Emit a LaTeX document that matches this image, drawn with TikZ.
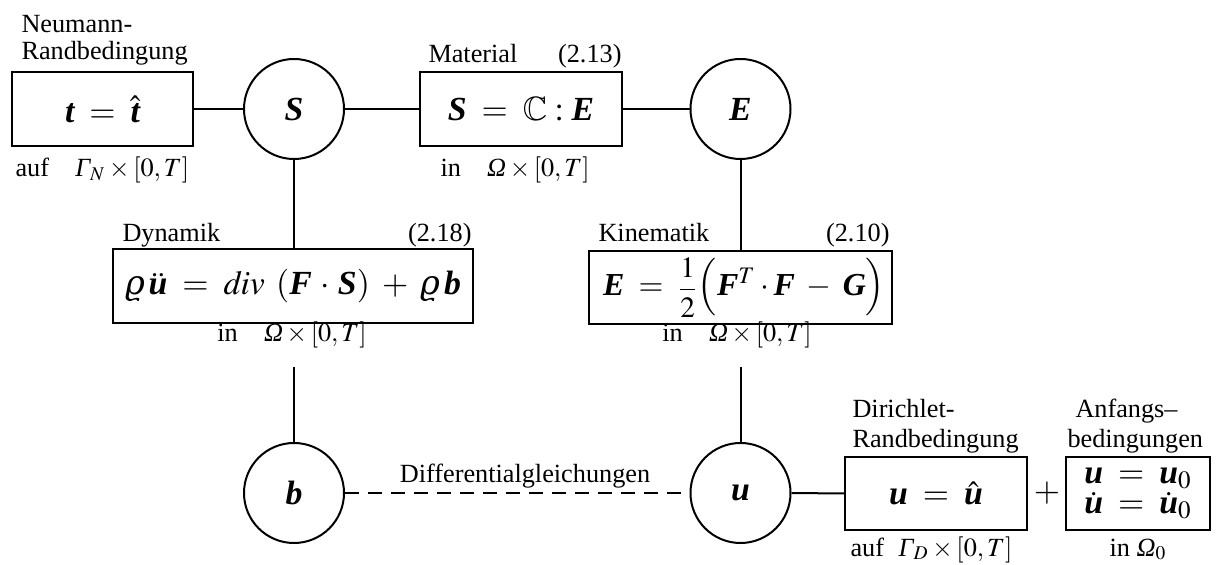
\documentclass[tikz,border=0pt]{standalone}
\usepackage{amsmath}
\usepackage{mathptmx}
\usepackage{amssymb}
\usepackage[no-math]{fontspec}
\setmainfont{Liberation Serif}
\newfontfamily\dvs{DejaVu Serif}
\newcommand{\bv}[1]{\text{\normalfont\bfseries\itshape #1}}
\newcommand{\gi}[1]{\text{\normalfont\itshape #1}}
\newcommand{\rhov}{\text{\dvs\itshape ϱ}}
\newcommand{\Mt}{\fontsize{13.5}{12.2}\selectfont}
\begin{document}
\begin{tikzpicture}[x=0.4pt,y=-0.4pt, font=\fontsize{10.5}{12.6}\selectfont,
  box/.style={draw, line width=0.8pt, inner sep=0pt, font=\Mt, align=center},
  circ/.style={draw, circle, line width=0.8pt, minimum size=40pt, inner sep=0pt, font=\Mt},
  lab/.style={inner sep=0pt, anchor=base west},
  labr/.style={inner sep=0pt, anchor=base east},
  labc/.style={inner sep=0pt, anchor=base},
  conn/.style={line width=0.8pt},
  dconn/.style={line width=0.8pt, dash pattern=on 5.6pt off 3.6pt}]
\useasboundingbox (0,0) rectangle (1221,565);

% nodes
\node[box, minimum width=72pt, minimum height=29.6pt] (tb) at (102.5,109) {$\bv{t} \;=\; \hat{\bv{t}}$};
\node[circ] (S) at (294,109) {$\bv{S}$};
\node[box, minimum width=80.8pt, minimum height=29.6pt] (mat) at (521,109) {$\bv{S} \;=\; \mathbb{C} : \bv{E}$};
\node[circ] (E) at (740.5,109) {$\bv{E}$};
\node[box, minimum width=144pt, minimum height=29.6pt] (dyn) at (293,286) {$\rhov\,\ddot{\bv{u}} \;=\; \mathit{div}\;\,(\bv{F}\,\cdot\,\bv{S}) \;+\; \rhov\,\bv{b}$};
\node[box, minimum width=121.2pt, minimum height=29.2pt, font=\fontsize{12.8}{12}\selectfont] (kin) at (740.5,287.5) {$\;\bv{E} \;=\; \vcenter{\hbox{\scalebox{0.92}{$\displaystyle\frac{1}{2}$}}}\Bigl(\bv{F}^{T}\cdot\bv{F} \;-\; \bv{G}\Bigr)$};
\node[circ] (b) at (294,493) {$\bv{b}$};
\node[circ] (u) at (740.5,493) {$\bv{u}$};
\node[box, minimum width=72.8pt, minimum height=29.2pt] (dir) at (936,493.5) {$\bv{u} \;=\; \hat{\bv{u}}$};
\node[box, minimum width=57.6pt, minimum height=29.2pt] (anf) at (1138,493.5) {$\bv{u} \;=\; \bv{u}_0$\\$\dot{\bv{u}} \;=\; \dot{\bv{u}}_0$};
\node[inner sep=0pt, font=\Mt] (plus) at (1047,493) {$+$};

% labels
\node[lab] (l1) at (21,33) {Neumann-};
\node[lab] (l2) at (21,60) {Randbedingung};
\node[lab] (l3) at (15,177) {auf\quad$\gi{Γ}_{N}\times[0,T]$};
\node[lab] (l4) at (428,63) {Material};
\node[labr] (l5) at (622,63) {(2.13)};
\node[lab] (l6) at (440,177) {in\quad$\gi{Ω}\times[0,T]$};
\node[lab] (l7) at (122,242) {Dynamik};
\node[labr] (l8) at (472,242) {(2.18)};
\node[labc] (l9) at (292,342) {in\quad$\gi{Ω}\times[0,T]$};
\node[lab] (l10) at (598,242) {Kinematik};
\node[labr] (l11) at (890,242) {(2.10)};
\node[labc] (l12) at (737,342) {in\quad$\gi{Ω}\times[0,T]$};
\node[labc] (l13) at (525,483) {Differentialgleichungen};
\node[lab] (l14) at (852,418) {Dirichlet-};
\node[lab] (l15) at (852,448) {Randbedingung};
\node[lab] (l16) at (850,556) {auf\;\;$\gi{Γ}_{D}\times[0,T]$};
\node[lab] (l17) at (1075,418) {Anfangs–};
\node[lab] (l18) at (1067,448) {bedingungen};
\node[labc] (l19) at (1138,556) {in $\gi{Ω}_{0}$};

\coordinate (dynlo) at (294,367);
\coordinate (kinlo) at (740.5,367);

% connectors
\draw[conn] (tb.east) -- (S.west);
\draw[conn] (S.east) -- (mat.west);
\draw[conn] (mat.east) -- (E.west);
\draw[conn] (S.south) -- (S.south |- dyn.north);
\draw[conn] (E.south) -- (E.south |- kin.north);
\draw[conn] (dynlo) -- (b.north);
\draw[conn] (kinlo) -- (u.north);
\draw[dconn] (b.east) -- (u.west);
\draw[conn] (u.east) -- (dir.west);
\end{tikzpicture}
\end{document}
